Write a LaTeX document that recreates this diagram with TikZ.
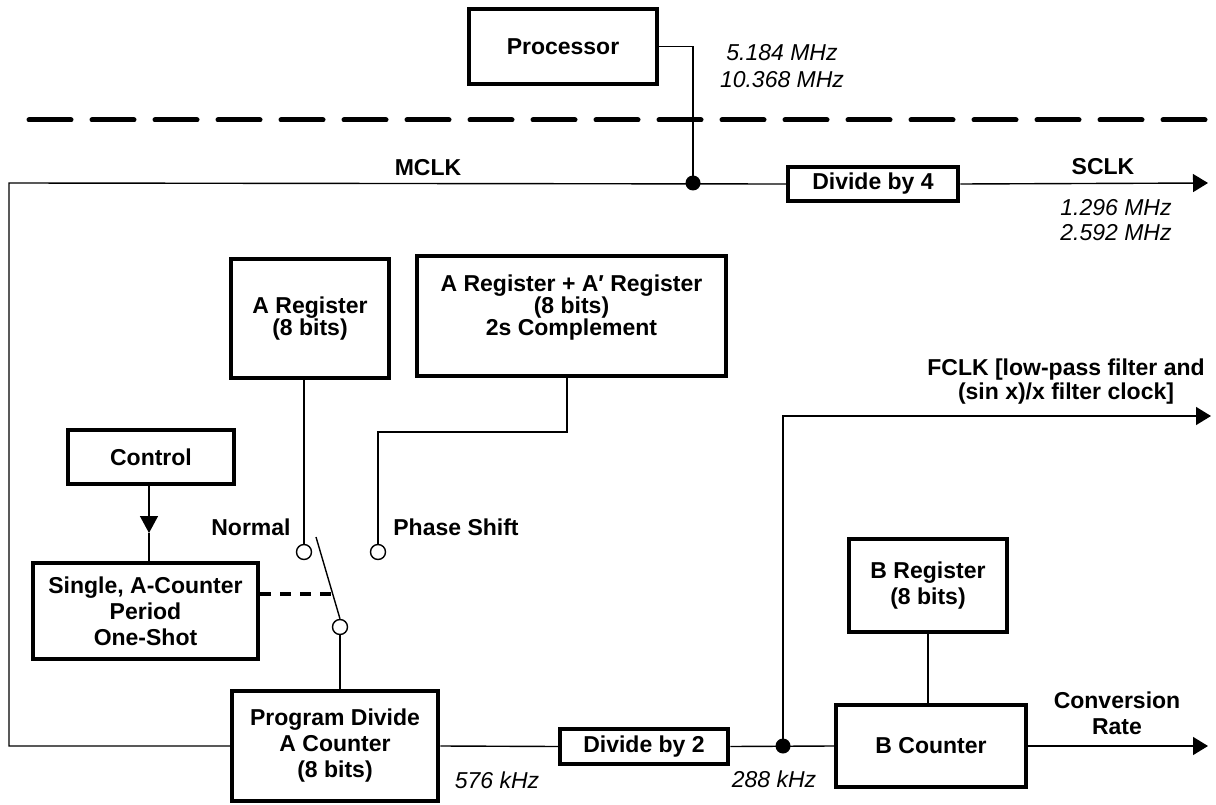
\documentclass[tikz,border=0pt]{standalone}
\usepackage{fontspec}
\setmainfont{Liberation Sans}
\usetikzlibrary{arrows.meta}
\begin{document}
\begin{tikzpicture}[x=1pt,y=-1pt,
  box/.style={draw, line width=4.5pt, inner sep=0pt, align=center, font=\bfseries\fontsize{23}{26}\selectfont},
  tightbox/.style={box, font=\bfseries\fontsize{23}{21.5}\selectfont},
  lbl/.style={inner sep=0pt, align=center, font=\bfseries\fontsize{23}{26}\selectfont},
  freq/.style={inner sep=0pt, align=center, font=\itshape\fontsize{23}{26}\selectfont},
  wire/.style={line width=1.4pt},
  sig/.style={wire, -{Triangle[length=15pt,width=18pt]}},
  jdot/.style={circle, fill, inner sep=0pt, minimum size=15pt},
  term/.style={circle, draw, line width=1.4pt, fill=white, inner sep=0pt, minimum size=15pt},
  sepline/.style={line width=5pt, line cap=round, dash pattern=on 42pt off 21pt},
  linkline/.style={line width=4pt, dash pattern=on 11pt off 9pt},
]
\useasboundingbox (0,0) rectangle (1216,805);

% boxes
\node[box, minimum width=188pt, minimum height=75pt] (proc) at (563,46.5) {Processor};
\node[box, minimum width=170pt, minimum height=34pt] (div4) at (873,184) {Divide by 4};
\node[tightbox, minimum width=158pt, minimum height=119pt] (areg) at (310,318.5) {A Register\\(8 bits)};
\node[tightbox, minimum width=309pt, minimum height=120pt, text depth=22pt] (aareg) at (571.5,316) {A Register + A′ Register\\(8 bits)\\2s Complement};
\node[box, minimum width=166pt, minimum height=54pt] (ctrl) at (151,457) {Control};
\node[box, minimum width=225pt, minimum height=96pt] (single) at (145.5,611) {Single, A-Counter\\Period\\One-Shot};
\node[box, minimum width=206pt, minimum height=110pt] (prog) at (335,746) {Program Divide\\A Counter\\(8 bits)};
\node[box, minimum width=168pt, minimum height=35pt] (div2) at (644,746.5) {Divide by 2};
\node[box, minimum width=158pt, minimum height=93pt] (breg) at (928,585.5) {B Register\\(8 bits)};
\node[box, minimum width=190pt, minimum height=82pt] (bcnt) at (931,746) {B Counter};

% labels
\node[freq, font=\itshape\fontsize{23}{27}\selectfont] (fproc) at (782,66.5) {5.184 MHz\\10.368 MHz};
\node[lbl] (mclk) at (428,168) {MCLK};
\node[lbl] (sclk) at (1103,167) {SCLK};
\node[freq, font=\itshape\fontsize{23}{25}\selectfont] (fsclk) at (1116,220.5) {1.296 MHz\\2.592 MHz};
\node[lbl, font=\bfseries\fontsize{23}{24}\selectfont] (fclk) at (1066,382) {FCLK [low-pass filter and\\(sin x)/x filter clock]};
\node[lbl] (nlab) at (251,527) {Normal};
\node[lbl] (plab) at (456,527) {Phase Shift};
\node[lbl] (conv) at (1117,713) {Conversion\\Rate};
\node[freq] (f576) at (497,780) {576 kHz};
\node[freq] (f288) at (774,779) {288 kHz};

% coordinates
\coordinate (sepL) at (29,120);
\coordinate (sepR) at (1216,120);
\coordinate (mL) at (9,183);
\coordinate (bL) at (9,746);
\coordinate (pk) at (693,46.5);
\coordinate (sclkEnd) at (1208,183);
\coordinate (fclkEnd) at (1211,416);
\coordinate (convEnd) at (1208,746);
\coordinate (ctip) at (149,533);
\coordinate (phk) at (567,432);
\coordinate (bladetop) at (316,537);
\coordinate (dj) at (333,594);

% separator
\draw[sepline] (sepL) -- (sepR);

% wires
\draw[wire] (proc.east) -- (pk) -- (pk |- mL);
\draw[wire] (prog.west) -- (bL) -- (mL) -- (div4.west);
\draw[sig] (div4.east) -- (sclkEnd);
\draw[wire] (prog.east) -- (div2.west);
\draw[wire] (div2.east) -- (bcnt.west);
\draw[sig] (783,746) |- (fclkEnd);
\draw[sig] (bcnt.east) -- (convEnd);
\draw[wire] (breg.south) -- (breg.south |- bcnt.north);
\draw[wire, -{Triangle[length=17pt,width=18pt]}] (ctip |- ctrl.south) -- (ctip);
\draw[wire] (ctip) -- (ctip |- single.north);

% switch
\node[term] (nrm) at (304,552) {};
\node[term] (phs) at (378,552) {};
\node[term] (sw) at (340,627) {};
\draw[wire] (nrm.north) -- (nrm.north |- areg.south);
\draw[wire] (phs.north) |- (phk) -- (phk |- aareg.south);
\draw[wire] (bladetop) -- (sw.north);
\draw[wire] (sw.south) -- (sw.south |- prog.north);
\draw[linkline] (dj -| single.east) -- (dj);

% junction dots
\node[jdot] (j1) at (pk |- mL) {};
\node[jdot] (j2) at (783,746) {};
\end{tikzpicture}
\end{document}
